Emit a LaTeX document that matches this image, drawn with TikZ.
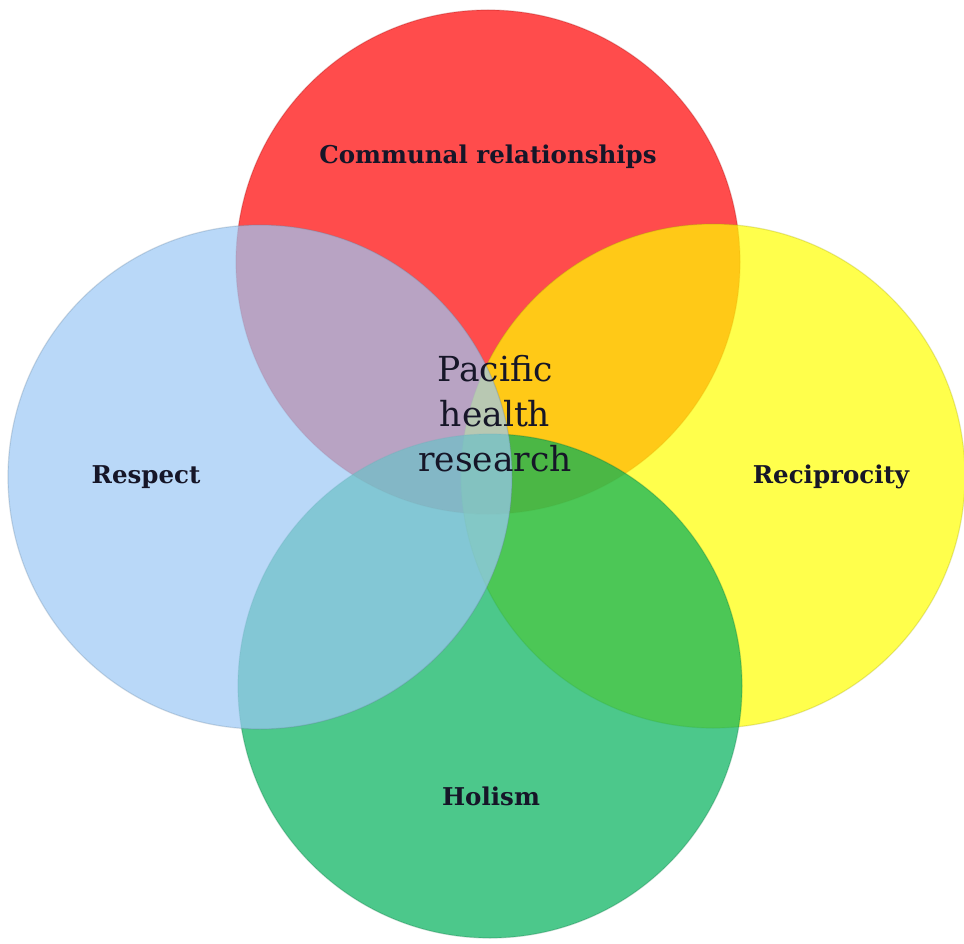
\documentclass[tikz,border=0pt]{standalone}
\usepackage{fontspec}
\setmainfont{DejaVu Serif}
\definecolor{ringred}{RGB}{255, 0, 0}
\definecolor{ringyellow}{RGB}{255, 255, 0}
\definecolor{ringgreen}{RGB}{0, 176, 90}
\definecolor{ringblue}{RGB}{155, 200, 245}
\definecolor{labelink}{RGB}{22, 22, 40}
\usepackage{tikz}
\usetikzlibrary{positioning}

\tikzset{
  ring/.style={circle, minimum size=504pt, fill=#1, fill opacity=0.7,
               draw=#1!60!black, draw opacity=0.25, line width=1.2pt},
  ringlabel/.style={font=\fontsize{24.5}{28}\selectfont\bfseries, text=labelink}
}

\begin{document}
\begin{tikzpicture}[x=1pt, y=-1pt]
                \useasboundingbox (0,0) rectangle (964,944);
                % Circles
                \node[ring=ringred] (cr) at (488,262) {};
                \node[ring=ringyellow] (re) at (713,476) {};
                \node[ring=ringgreen] (ho) at (490,686) {};
                \node[ring=ringblue] (rs) at (260,477) {};
                
                % Labels
                \node[ringlabel] (crlab) at (488,157) {Communal relationships};
                \node[ringlabel] (rslab) at (146,477) {Respect};
                \node[ringlabel] (relab) at (831,477) {Reciprocity};
                \node[ringlabel] (holab) at (491,796) {Holism};
                
                % Centre
                \node[font=\fontsize{34.5}{45}\selectfont, text=labelink, align=center] (ph) at (495,414) {Pacific\\health\\research};
            \end{tikzpicture}
\end{document}
